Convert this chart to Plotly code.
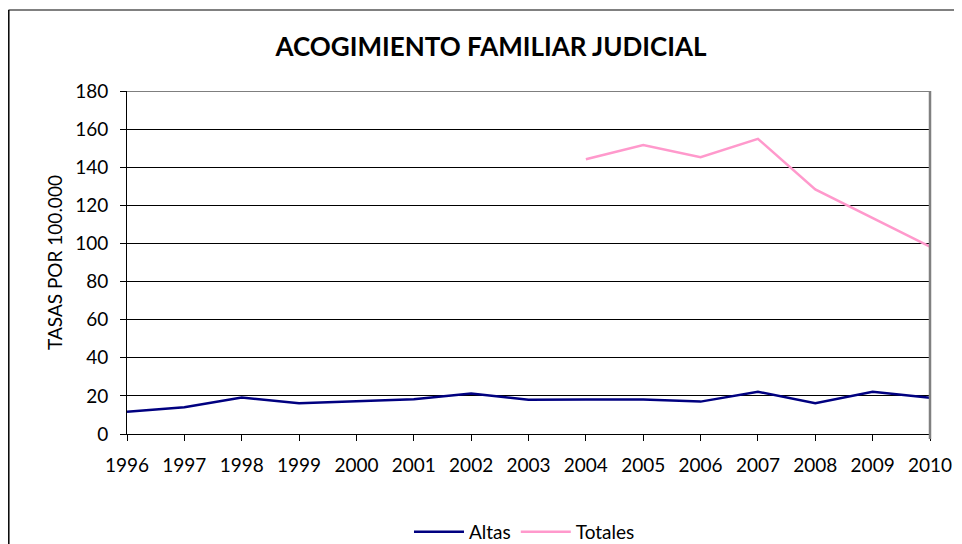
import plotly.graph_objects as go

years = [str(y) for y in range(1996, 2011)]
altas = [11.7, 14.0, 19.2, 16.1, 17.2, 18.2, 21.2, 18.0, 18.1, 18.1, 17.0, 22.2, 16.1, 22.2, 19.0]
totales_years = [str(y) for y in range(2004, 2011)]
totales = [144.2, 151.7, 145.2, 154.9, 128.4, 113.5, 98.3]
y_ticks = list(range(0, 181, 20))

# page has an 8px body margin: figure origin sits at page (8, 8)
OFF = 8
W, H = 962 - OFF, 544 - OFF
L, R, T, B = 127 - OFF, 930 - OFF, 91 - OFF, 434 - OFF
pw, ph = R - L, B - T

def px(x):
    return (x - OFF - L) / pw

def py(y):
    return (B - (y - OFF)) / ph

FONT = "Lato"

fig = go.Figure()
fig.add_trace(go.Scatter(x=years, y=altas, mode="lines", name="Altas",
                         line=dict(color="#000080", width=2.5)))
fig.add_trace(go.Scatter(x=totales_years, y=totales, mode="lines", name="Totales",
                         line=dict(color="#FF99CC", width=2.5)))

fig.update_layout(
    width=W, height=H,
    margin=dict(l=L, r=W - R, t=T, b=H - B, autoexpand=False),
    paper_bgcolor="white", plot_bgcolor="white",
    font=dict(family=FONT, size=19, color="black"),
    title=dict(text="<b>ACOGIMIENTO FAMILIAR JUDICIAL</b>", x=(491 - OFF) / W, xanchor="center",
               y=1 - (47 - OFF) / H, yanchor="middle", font=dict(family=FONT, size=26, color="black")),
    showlegend=True,
    legend=dict(orientation="h", x=0.495, xanchor="center", y=py(532), yanchor="middle",
                font=dict(family=FONT, size=19), bgcolor="rgba(0,0,0,0)", itemwidth=50,
                tracegroupgap=0),
    xaxis=dict(type="category", categoryorder="array", categoryarray=years,
               range=[0, len(years) - 1], showgrid=False, showline=True, linecolor="black",
               linewidth=1, ticks="outside", ticklen=6, tickcolor="black", automargin=False,
               ticklabelstandoff=8,
               tickfont=dict(family=FONT, size=19), zeroline=False, fixedrange=True),
    yaxis=dict(range=[0, 180], tickvals=y_ticks, showgrid=True, gridcolor="black",
               gridwidth=1, showline=True, linecolor="black", linewidth=1, automargin=False,
               ticks="outside", ticklen=6, tickcolor="black", ticklabelstandoff=8,
               tickfont=dict(family=FONT, size=19), zeroline=False,
               title=dict(text="TASAS POR 100.000", font=dict(family=FONT, size=19), standoff=7)),
)

# top gridline at the last tick value
fig.add_shape(type="line", xref="paper", yref="y", x0=0, x1=1, y0=y_ticks[-1], y1=y_ticks[-1],
              line=dict(color="black", width=1))
# right edge of plot area (gray)
fig.add_shape(type="line", xref="paper", yref="paper", x0=1, x1=1, y0=py(439), y1=1,
              line=dict(color="#808080", width=2.5))
# outer chart frame
fig.add_shape(type="line", xref="paper", yref="paper", x0=px(8.5), x1=px(975), y0=py(10), y1=py(10),
              line=dict(color="#808080", width=2))
fig.add_shape(type="line", xref="paper", yref="paper", x0=px(8.8), x1=px(8.8), y0=py(10), y1=py(560),
              line=dict(color="black", width=1.5))

fig.write_html("out.html")
